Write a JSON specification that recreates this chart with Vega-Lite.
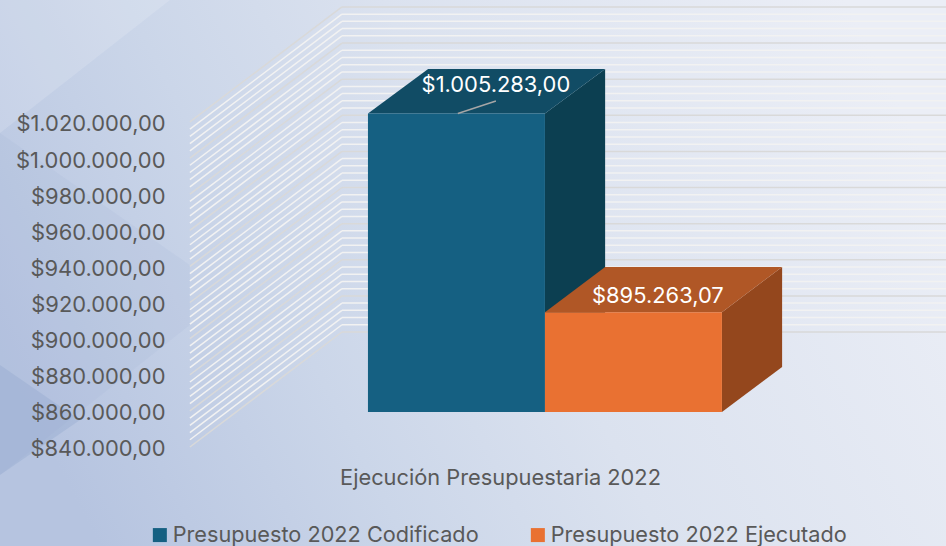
{
"$schema":"https://vega.github.io/schema/vega-lite/v6.json",
"width":946,"height":546,"padding":0,"autosize":{"type":"none"},
"background":"#dfe5f1",
"config":{"view":{"stroke":null},"locale":{"number":{"decimal":",","thousands":".","grouping":[3],"currency":["$",""]}},"font":"Inter"},
"datasets":{
"presupuesto":[
{"serie":"Presupuesto 2022 Codificado","valor":1005283.00,"base":840000,"inicio":0,"fin":1,"centro":0.723},
{"serie":"Presupuesto 2022 Ejecutado","valor":895263.07,"base":840000,"inicio":1,"fin":2,"centro":1.638}],
"caras":[
{"serie":"Codificado","cara":"lado","x":1,"y":1005283,"y2":840000},
{"serie":"Codificado","cara":"lado","x":1.34,"y":1029950,"y2":865000},
{"serie":"Ejecutado","cara":"lado","x":2,"y":895263,"y2":840000},
{"serie":"Ejecutado","cara":"lado","x":2.34,"y":920300,"y2":864900},
{"serie":"Codificado","cara":"tapa","x":0,"x2":1,"y":1005283},
{"serie":"Codificado","cara":"tapa","x":0.34,"x2":1.34,"y":1029950},
{"serie":"Ejecutado","cara":"tapa","x":1,"x2":2,"y":895263},
{"serie":"Ejecutado","cara":"tapa","x":1.34,"x2":2.34,"y":920300}],
"fondo":[
{"zona":"a","x":-2.079,"y":1068128,"y2":994482},
{"zona":"a","x":-1.119,"y":1068128,"y2":1068128},
{"zona":"b","x":-2.079,"y":994482,"y2":805117},
{"zona":"b","x":-1.006,"y":921394,"y2":888172},
{"zona":"c","x":-2.079,"y":866024,"y2":805117},
{"zona":"c","x":-1.627,"y":835570,"y2":835570}],
"lineas":[
{"valor":840000,"tipo":"mayor"},{"valor":844000,"tipo":"menor"},{"valor":848000,"tipo":"menor"},{"valor":852000,"tipo":"menor"},{"valor":856000,"tipo":"menor"},
{"valor":860000,"tipo":"mayor"},{"valor":864000,"tipo":"menor"},{"valor":868000,"tipo":"menor"},{"valor":872000,"tipo":"menor"},{"valor":876000,"tipo":"menor"},
{"valor":880000,"tipo":"mayor"},{"valor":884000,"tipo":"menor"},{"valor":888000,"tipo":"menor"},{"valor":892000,"tipo":"menor"},{"valor":896000,"tipo":"menor"},
{"valor":900000,"tipo":"mayor"},{"valor":904000,"tipo":"menor"},{"valor":908000,"tipo":"menor"},{"valor":912000,"tipo":"menor"},{"valor":916000,"tipo":"menor"},
{"valor":920000,"tipo":"mayor"},{"valor":924000,"tipo":"menor"},{"valor":928000,"tipo":"menor"},{"valor":932000,"tipo":"menor"},{"valor":936000,"tipo":"menor"},
{"valor":940000,"tipo":"mayor"},{"valor":944000,"tipo":"menor"},{"valor":948000,"tipo":"menor"},{"valor":952000,"tipo":"menor"},{"valor":956000,"tipo":"menor"},
{"valor":960000,"tipo":"mayor"},{"valor":964000,"tipo":"menor"},{"valor":968000,"tipo":"menor"},{"valor":972000,"tipo":"menor"},{"valor":976000,"tipo":"menor"},
{"valor":980000,"tipo":"mayor"},{"valor":984000,"tipo":"menor"},{"valor":988000,"tipo":"menor"},{"valor":992000,"tipo":"menor"},{"valor":996000,"tipo":"menor"},
{"valor":1000000,"tipo":"mayor"},{"valor":1004000,"tipo":"menor"},{"valor":1008000,"tipo":"menor"},{"valor":1012000,"tipo":"menor"},{"valor":1016000,"tipo":"menor"},
{"valor":1020000,"tipo":"mayor"}],
"guia":[{"x":0.508,"x2":0.723,"y":1005283,"y2":1012201}]
},
"data":{"name":"presupuesto"},
"layer":[
{"data":{"values":[{"zona":"lienzo"}]},
 "mark":{"type":"rect","color":{"gradient":"linear","x1":0,"y1":0.65,"x2":1,"y2":0.35,"stops":[{"offset":0,"color":"#b6c4e0"},{"offset":0.3,"color":"#cbd6e9"},{"offset":0.55,"color":"#dbe2ef"},{"offset":1,"color":"#ebeef6"}]}},
 "encoding":{
  "x":{"datum":-2.079,"type":"quantitative","scale":{"domain":[-2.079,3.266],"zero":false,"nice":false},
   "axis":{"zindex":1,"title":"Ejecución Presupuestaria 2022","labels":false,"ticks":false,"domain":false,"grid":false,"titleX":500,"titleY":-62,"titleBaseline":"alphabetic","titleAlign":"center","titleFontWeight":"normal","titleFontSize":21.8,"titleColor":"#595959","titleFont":"Inter"}},
  "x2":{"datum":3.266},
  "y":{"datum":765803,"type":"quantitative","scale":{"domain":[765803,1068128],"zero":false,"nice":false},
   "axis":{"zindex":1,"title":null,"orient":"left","offset":-165,"values":[840000,860000,880000,900000,920000,940000,960000,980000,1000000,1020000],"format":"$,.2f","labelOffset":37,"labelPadding":0,"ticks":false,"domain":false,"grid":false,"labelFontSize":21.9,"labelColor":"#595959","labelFont":"Inter","labelBound":false,"labelFlush":false,"labelOverlap":false}},
  "y2":{"datum":1068128}}},
{"data":{"name":"fondo"},"transform":[{"filter":"datum.zona==='a'"}],
 "mark":{"type":"area","color":"#ffffff","opacity":0.15},
 "encoding":{"x":{"field":"x","type":"quantitative"},"y":{"field":"y","type":"quantitative"},"y2":{"field":"y2"}}},
{"data":{"name":"fondo"},"transform":[{"filter":"datum.zona==='b'"}],
 "mark":{"type":"area","color":"#94a9cf","opacity":0.1},
 "encoding":{"x":{"field":"x","type":"quantitative"},"y":{"field":"y","type":"quantitative"},"y2":{"field":"y2"}}},
{"data":{"name":"fondo"},"transform":[{"filter":"datum.zona==='c'"}],
 "mark":{"type":"area","color":"#8aa1c9","opacity":0.3},
 "encoding":{"x":{"field":"x","type":"quantitative"},"y":{"field":"y","type":"quantitative"},"y2":{"field":"y2"}}},
{"data":{"name":"lineas"},"transform":[{"filter":"datum.tipo==='menor'"}],
 "mark":{"type":"rule","color":"#f2f2f2","strokeWidth":1.5,"yOffset":-80},
 "encoding":{"x":{"datum":-0.147,"type":"quantitative"},"x2":{"datum":3.266},"y":{"field":"valor","type":"quantitative"}}},
{"data":{"name":"lineas"},"transform":[{"filter":"datum.tipo==='mayor'"}],
 "mark":{"type":"rule","color":"#d9d9d9","strokeWidth":1.5,"yOffset":-80},
 "encoding":{"x":{"datum":-0.147,"type":"quantitative"},"x2":{"datum":3.266},"y":{"field":"valor","type":"quantitative"}}},
{"data":{"name":"lineas"},"transform":[{"filter":"datum.tipo==='menor'"}],
 "mark":{"type":"rule","color":"#f2f2f2","strokeWidth":1.5,"yOffset":35,"y2Offset":-80},
 "encoding":{"x":{"datum":-1.006,"type":"quantitative"},"x2":{"datum":-0.147},"y":{"field":"valor","type":"quantitative"},"y2":{"field":"valor"}}},
{"data":{"name":"lineas"},"transform":[{"filter":"datum.tipo==='mayor'"}],
 "mark":{"type":"rule","color":"#d9d9d9","strokeWidth":1.5,"yOffset":35,"y2Offset":-80},
 "encoding":{"x":{"datum":-1.006,"type":"quantitative"},"x2":{"datum":-0.147},"y":{"field":"valor","type":"quantitative"},"y2":{"field":"valor"}}},
{"data":{"name":"caras"},"transform":[{"filter":"datum.serie==='Codificado' && datum.cara==='lado'"}],
 "mark":{"type":"area","color":"#0c3f51"},
 "encoding":{"x":{"field":"x","type":"quantitative"},"y":{"field":"y","type":"quantitative"},"y2":{"field":"y2"}}},
{"data":{"name":"caras"},"transform":[{"filter":"datum.serie==='Codificado' && datum.cara==='tapa'"}],
 "mark":{"type":"area","orient":"horizontal","color":"#114c65"},
 "encoding":{"x":{"field":"x","type":"quantitative"},"x2":{"field":"x2"},"y":{"field":"y","type":"quantitative"}}},
{"transform":[{"filter":"datum.inicio===0"}],
 "mark":{"type":"rect"},
 "encoding":{
  "x":{"field":"inicio","type":"quantitative"},
  "x2":{"field":"fin"},
  "y":{"field":"valor","type":"quantitative"},
  "y2":{"field":"base"},
  "color":{"field":"serie","type":"nominal","scale":{"domain":["Presupuesto 2022 Codificado","Presupuesto 2022 Ejecutado"],"range":["#156082","#e97132"]},
   "legend":{"title":null,"orient":"none","legendX":149,"legendY":524,"direction":"horizontal","columns":2,"symbolType":"square","symbolSize":196,"symbolStrokeWidth":0,"labelFontSize":21.7,"labelColor":"#595959","labelFont":"Inter","labelLimit":400,"columnPadding":48,"labelOffset":2}}}},
{"data":{"name":"caras"},"transform":[{"filter":"datum.serie==='Ejecutado' && datum.cara==='lado'"}],
 "mark":{"type":"area","color":"#94471d"},
 "encoding":{"x":{"field":"x","type":"quantitative"},"y":{"field":"y","type":"quantitative"},"y2":{"field":"y2"}}},
{"data":{"name":"caras"},"transform":[{"filter":"datum.serie==='Ejecutado' && datum.cara==='tapa'"}],
 "mark":{"type":"area","orient":"horizontal","color":"#b05726"},
 "encoding":{"x":{"field":"x","type":"quantitative"},"x2":{"field":"x2"},"y":{"field":"y","type":"quantitative"}}},
{"transform":[{"filter":"datum.inicio===1"}],
 "mark":{"type":"rect"},
 "encoding":{"x":{"field":"inicio","type":"quantitative"},"x2":{"field":"fin"},"y":{"field":"valor","type":"quantitative"},"y2":{"field":"base"},
  "color":{"field":"serie","type":"nominal"}}},
{"data":{"name":"guia"},
 "mark":{"type":"rule","color":"#a6a6a6","strokeWidth":1.5},
 "encoding":{"x":{"field":"x","type":"quantitative"},"x2":{"field":"x2"},"y":{"field":"y","type":"quantitative"},"y2":{"field":"y2"}}},
{"transform":[{"filter":"datum.inicio===0"}],
 "mark":{"type":"text","color":"#ffffff","fontSize":21.9,"font":"Inter","baseline":"middle","align":"center","dy":-28},
 "encoding":{"x":{"field":"centro","type":"quantitative"},"y":{"field":"valor","type":"quantitative"},"text":{"field":"valor","type":"quantitative","format":"$,.2f"}}},
{"transform":[{"filter":"datum.inicio===1"}],
 "mark":{"type":"text","color":"#ffffff","fontSize":21.9,"font":"Inter","baseline":"middle","align":"center","dy":-16},
 "encoding":{"x":{"field":"centro","type":"quantitative"},"y":{"field":"valor","type":"quantitative"},"text":{"field":"valor","type":"quantitative","format":"$,.2f"}}}
]
}
